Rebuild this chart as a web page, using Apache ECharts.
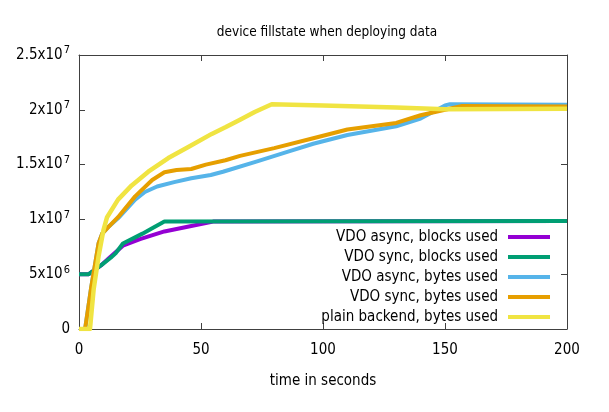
<!DOCTYPE html>
<html lang="en">
<head>
    <meta charset="utf-8"/>
    <title>device fillstate</title>
    <script src="https://cdn.jsdelivr.net/npm/echarts@6/dist/echarts.min.js"></script>
    <style>
        html, body { margin: 0; padding: 0; background: #fff; }
        #main { width: 609px; height: 412px; }
    </style>
</head>
<body>
<div id="main"></div>
<script>
    // values in units of 1e6, time in seconds
    var asyncBlocks = [[0, 5.0], [4, 5.0], [9, 5.8], [12, 6.4], [15, 7.0], [18, 7.6], [25, 8.2], [35, 8.9], [45, 9.35], [55, 9.8], [200, 9.85]];
    var syncBlocks = [[0, 5.0], [4, 5.0], [9, 5.8], [13, 6.5], [15, 6.9], [18, 7.8], [26, 8.7], [30, 9.2], [35, 9.8], [200, 9.85]];
    var asyncBytes = [[0, 0], [2.5, 0], [5, 3.8], [8, 7.8], [9.5, 8.7], [12, 9.3], [16, 10.1], [23, 11.8], [27, 12.5], [32, 13.0], [39, 13.4],
        [46, 13.75], [54, 14.05], [59, 14.35], [73, 15.3], [86, 16.2], [96, 16.9], [110, 17.7], [130, 18.5], [140, 19.2], [150, 20.4], [152, 20.5], [200, 20.45]];
    var syncBytes = [[0, 0], [2.5, 0], [5, 3.8], [8, 7.8], [9.5, 8.7], [12, 9.3], [16, 10.2], [23, 12.1], [30, 13.6], [35, 14.3], [40, 14.5], [46, 14.6],
        [52, 15.0], [60, 15.4], [66, 15.8], [80, 16.5], [96, 17.4], [110, 18.2], [130, 18.8], [140, 19.5], [150, 20.0], [157, 20.35], [200, 20.3]];
    var plainBytes = [[0, 0], [4.5, 0], [6, 3.6], [8, 6.6], [10, 9.0], [11.5, 10.2], [16, 11.8], [21.6, 13.1], [28.4, 14.35], [36.6, 15.6], [44.8, 16.6],
        [54.4, 17.8], [60, 18.4], [66, 19.1], [72, 19.8], [79, 20.5], [100, 20.4], [130, 20.2], [150, 20.05], [200, 20.1]];

    var seriesNames = ['VDO async, blocks used', 'VDO sync, blocks used', 'VDO async, bytes used', 'VDO sync, bytes used', 'plain backend, bytes used'];
    var seriesData = [asyncBlocks, syncBlocks, asyncBytes, syncBytes, plainBytes];
    var colors = ['#9400d3', '#009e73', '#56b4e9', '#e69f00', '#f0e442'];
    var yTickLabels = ['0', '5x10{s|6}', '1x10{s|7}', '1.5x10{s|7}', '2x10{s|7}', '2.5x10{s|7}'];

    var font = '"DejaVu Sans Condensed", "DejaVu Sans", sans-serif';
    var chart = echarts.init(document.getElementById('main'));

    function scaled(arr) {
        return arr.map(function (p) { return [p[0], p[1] * 1e6]; });
    }

    var axisLine = {show: true, onZero: false, lineStyle: {color: '#404040', width: 1}};
    var axisTick = {inside: true, length: 6, lineStyle: {color: '#404040'}};
    var option = {
        animation: false,
        textStyle: {fontFamily: font},
        title: {
            text: 'device fillstate when deploying data',
            left: 322, top: 20, textAlign: 'center',
            textStyle: {fontFamily: font, fontSize: 13.5, fontWeight: 'normal', color: '#000'}
        },
        grid: {left: 79, right: 42, top: 55, bottom: 83},
        legend: {
            orient: 'vertical', right: 54, bottom: 82, align: 'right',
            icon: 'rect', itemWidth: 42, itemHeight: 4, itemGap: 4,
            textStyle: {fontFamily: font, fontSize: 15, color: '#000', lineHeight: 16, padding: [0, 5, 0, 0]},
            data: seriesNames
        },
        xAxis: [{
            type: 'value', min: 0, max: 200, interval: 50,
            name: 'time in seconds', nameLocation: 'middle', nameGap: 45,
            nameTextStyle: {fontFamily: font, fontSize: 15, color: '#000'},
            axisLine: axisLine, axisTick: axisTick,
            axisLabel: {fontFamily: font, fontSize: 15, color: '#000', margin: 14},
            splitLine: {show: false}
        }, {
            type: 'value', min: 0, max: 200, interval: 50, position: 'top',
            axisLine: axisLine, axisTick: axisTick,
            axisLabel: {show: false}, splitLine: {show: false}
        }],
        yAxis: [{
            type: 'value', min: 0, max: 25e6, interval: 5e6,
            axisLine: axisLine, axisTick: axisTick,
            axisLabel: {
                margin: 9,
                formatter: function (v, i) { return yTickLabels[i]; },
                color: '#000', fontFamily: font, fontSize: 15,
                rich: {s: {fontFamily: font, fontSize: 11, color: '#000', padding: [0, 0, 9, 1]}}
            },
            splitLine: {show: false}
        }, {
            type: 'value', min: 0, max: 25e6, interval: 5e6, position: 'right',
            axisLine: axisLine, axisTick: axisTick,
            axisLabel: {show: false}, splitLine: {show: false}
        }],
        series: seriesNames.map(function (name, i) {
            return {
                name: name, type: 'line', showSymbol: false,
                xAxisIndex: 0, yAxisIndex: 0,
                data: scaled(seriesData[i]),
                itemStyle: {color: colors[i]},
                lineStyle: {color: colors[i], width: i === 4 ? 4.5 : 4, join: 'round'}
            };
        })
    };
    chart.setOption(option);
</script>
</body>
</html>
